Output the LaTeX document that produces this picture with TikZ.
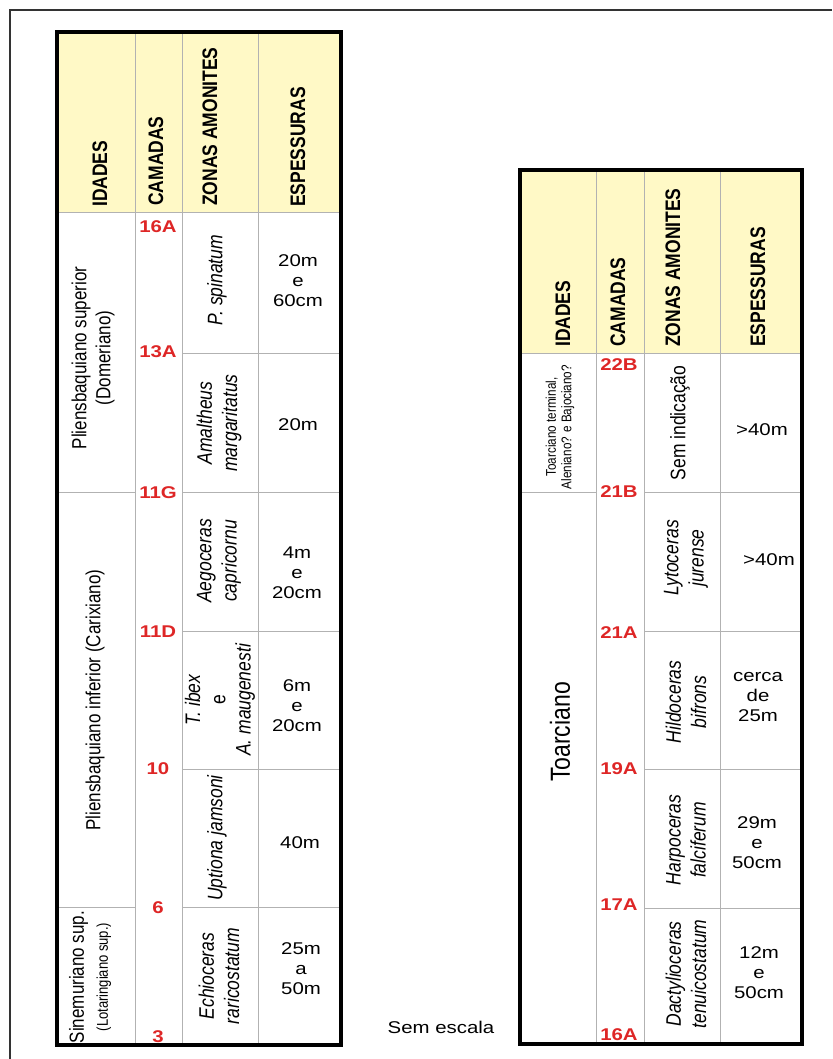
\documentclass[tikz,border=0pt]{standalone}
\usepackage{fontspec}
\setmainfont{Liberation Sans}
\definecolor{headyellow}{RGB}{255,249,198}
\definecolor{gridgray}{RGB}{178,178,178}
\definecolor{camred}{RGB}{222,38,38}
\tikzset{
  txt/.style={font=\fontsize{17}{20}\selectfont, align=center, inner sep=0pt, xscale=1.2},
  vtxt/.style={txt, rotate=90},
  head/.style={vtxt, font=\fontsize{17.5}{21}\selectfont\bfseries, anchor=west},
  zona/.style={vtxt, font=\fontsize{17.5}{21}\selectfont\itshape},
  camada/.style={txt, font=\fontsize{17}{19}\selectfont\bfseries, text=camred},
  grade/.style={draw=gridgray, line width=1pt},
  borda/.style={line width=3.5pt},
}
\begin{document}
\begin{tikzpicture}[x=1pt,y=-1pt]
\useasboundingbox (0,0) rectangle (832,1059);
% moldura
\draw[line width=2pt, black!80] (10,1059) -- (10,10) -- (832,10);

% tabela da esquerda
\fill[headyellow] (57,32) rectangle (341,213);
\draw[grade] (57,213) -- (341,213);
\foreach \x in {135,182,258} \draw[grade] (\x,32) -- (\x,1045);
\foreach \y in {353,492,631,769,907} \draw[grade] (182,\y) -- (341,\y);
\foreach \y in {492,907} \draw[grade] (57,\y) -- (135,\y);
\draw[borda] (57,32) rectangle (341,1045);

\node[head] (eIdades) at (100,207) {IDADES};
\node[head] (eCamadas) at (156,206) {CAMADAS};
\node[head] (eZonas) at (210,206) {ZONAS AMONITES};
\node[head] (eEspessuras) at (298,207) {ESPESSURAS};

\node[vtxt] (eDomeriano) at (93,358) {Pliensbaquiano superior\\(Domeriano)};
\node[vtxt] (eCarixiano) at (95,700) {Pliensbaquiano inferior (Carixiano)};
\node[vtxt] (eSinemuriano) at (90,977) {Sinemuriano sup.\\\fontsize{13}{15}\selectfont(Lotaringiano sup.)};

\foreach \y/\t in {227/16A,352/13A,493/11G,632/11D,769/10,908/6,1037/3}
  \node[camada] (e-\t) at (158,\y) {\t};

\node[zona] (eSpinatum) at (217,280) {P. spinatum};
\node[zona] (eMargaritatus) at (219,423) {Amaltheus\\margaritatus};
\node[zona] (eCapricornu) at (219,561) {Aegoceras\\capricornu};
\node[zona] (eIbex) at (220,700) {T. ibex\\{\upshape e}\\A. maugenesti};
\node[zona] (eJamsoni) at (217,838) {Uptiona jamsoni};
\node[zona] (eRaricostatum) at (219,976) {Echioceras\\raricostatum};

\node[txt] (eEsp1) at (298,281) {20m\\e\\60cm};
\node[txt] (eEsp2) at (298,425) {20m};
\node[txt] (eEsp3) at (297,573) {4m\\e\\20cm};
\node[txt] (eEsp4) at (297,706) {6m\\e\\20cm};
\node[txt] (eEsp5) at (300,843) {40m};
\node[txt] (eEsp6) at (301,969) {25m\\a\\50m};

% tabela da direita
\fill[headyellow] (520,170) rectangle (802,353);
\draw[grade] (520,353) -- (802,353);
\foreach \x in {596,644,720} \draw[grade] (\x,170) -- (\x,1044);
\foreach \y in {631,769,908} \draw[grade] (644,\y) -- (802,\y);
\draw[grade] (520,492) -- (596,492);
\draw[grade] (644,492) -- (802,492);
\draw[borda] (520,170) rectangle (802,1044);

\node[head] (dIdades) at (563,347) {IDADES};
\node[head] (dCamadas) at (618,347) {CAMADAS};
\node[head] (dZonas) at (673,347) {ZONAS AMONITES};
\node[head] (dEspessuras) at (758,347) {ESPESSURAS};

\node[vtxt, font=\fontsize{11.7}{13}\selectfont] (dTerminal) at (560,427) {Toarciano terminal,\\Aleniano? e Bajociano?};
\node[vtxt, font=\fontsize{23}{26}\selectfont] (dToarciano) at (560,732) {Toarciano};

\foreach \y/\t in {365/22B,492/21B,633/21A,769/19A,905/17A,1035/16A}
  \node[camada] (d-\t) at (619,\y) {\t};

\node[vtxt, font=\fontsize{17.5}{21}\selectfont] (dSemIndicacao) at (680,423) {Sem indicação};
\node[zona] (dJurense) at (686,558) {Lytoceras\\jurense};
\node[zona] (dBifrons) at (686,702) {Hildoceras\\bifrons};
\node[zona] (dFalciferum) at (686,840) {Harpoceras\\falciferum};
\node[zona] (dTenuicostatum) at (686,974) {Dactylioceras\\tenuicostatum};

\node[txt] (dEsp1) at (762,430) {>40m};
\node[txt] (dEsp2) at (769,560) {>40m};
\node[txt] (dEsp3) at (758,697) {cerca\\de\\25m};
\node[txt] (dEsp4) at (757,843) {29m\\e\\50cm};
\node[txt] (dEsp5) at (759,973) {12m\\e\\50cm};

\node[txt] (semEscala) at (441,1027) {Sem escala};
\end{tikzpicture}
\end{document}
